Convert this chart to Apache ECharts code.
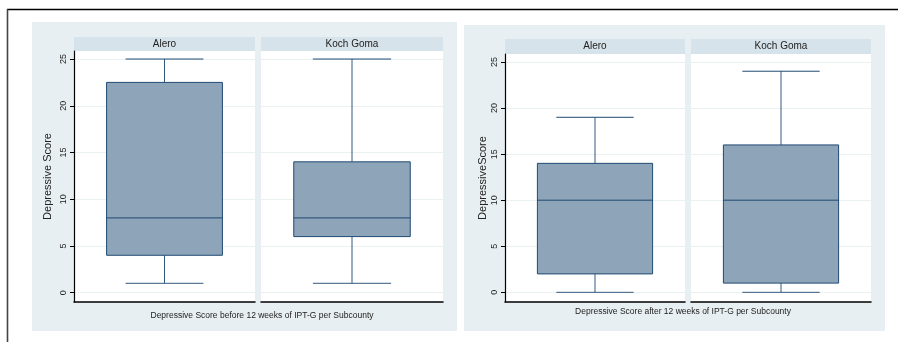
<!DOCTYPE html>
<html>
<head>
<meta charset="utf-8">
<script src="https://cdn.jsdelivr.net/npm/echarts@6/dist/echarts.min.js"></script>
<style>html,body{margin:0;padding:0;background:#fff;}#c{width:898px;height:342px;}</style>
</head>
<body>
<div id="c"></div>
<script>
// ---- data ----
const subcounties = ['Alero', 'Koch Goma'];
// [min, Q1, median, Q3, max]
const beforeAlero = [1, 4, 8, 22.5, 25];
const beforeKochGoma = [1, 6, 8, 14, 25];
const afterAlero = [0, 2, 10, 14, 19];
const afterKochGoma = [0, 1, 10, 16, 24];
const yTicks = [0, 5, 10, 15, 20, 25];
const yTitleBefore = 'Depressive Score';
const yTitleAfter = 'DepressiveScore';
const xTitleBefore = 'Depressive Score before 12 weeks of IPT-G per Subcounty';
const xTitleAfter = 'Depressive Score after 12 weeks of IPT-G per Subcounty';

// ---- styling ----
const FONT = 'Liberation Sans, Arial, sans-serif';
const PANEL_BG = '#e8eff2';
const STRIP_BG = '#d7e3ea';
const BOX_FILL = '#8ea4b9';
const BOX_LINE = '#1f4a73';
const WHISK = '#34597f';
const GRIDC = '#e9f1f3';

const grids = [
  {left: 74, top: 51, width: 181, height: 251, min: -1.0, max: 25.86},
  {left: 261, top: 51, width: 182, height: 251, min: -1.0, max: 25.86},
  {left: 505, top: 54, width: 180, height: 248, min: -1.05, max: 25.87},
  {left: 691, top: 54, width: 180, height: 248, min: -1.05, max: 25.87}
];
const panelData = [beforeAlero, beforeKochGoma, afterAlero, afterKochGoma];
const panelCat = [subcounties[0], subcounties[1], subcounties[0], subcounties[1]];

function renderBox(params, api) {
  const x = api.coord([api.value(0), 0])[0];
  const band = api.size([1, 0])[0];
  const bw = band * 0.64;
  const cw = band * 0.43;
  const yMin = api.coord([api.value(0), api.value(1)])[1];
  const yQ1 = api.coord([api.value(0), api.value(2)])[1];
  const yMed = api.coord([api.value(0), api.value(3)])[1];
  const yQ3 = api.coord([api.value(0), api.value(4)])[1];
  const yMax = api.coord([api.value(0), api.value(5)])[1];
  const ls = {stroke: WHISK, lineWidth: 1};
  return {
    type: 'group',
    children: [
      {type: 'line', shape: {x1: x, y1: yMax, x2: x, y2: yQ3}, style: ls},
      {type: 'line', shape: {x1: x, y1: yQ1, x2: x, y2: yMin}, style: ls},
      {type: 'line', shape: {x1: x - cw / 2, y1: yMax, x2: x + cw / 2, y2: yMax}, style: {stroke: BOX_LINE, lineWidth: 1}},
      {type: 'line', shape: {x1: x - cw / 2, y1: yMin, x2: x + cw / 2, y2: yMin}, style: ls},
      {type: 'rect', shape: {x: x - bw / 2, y: yQ3, width: bw, height: yQ1 - yQ3}, style: {fill: BOX_FILL, stroke: BOX_LINE, lineWidth: 1}},
      {type: 'line', shape: {x1: x - bw / 2, y1: yMed, x2: x + bw / 2, y2: yMed}, style: {stroke: BOX_LINE, lineWidth: 1}}
    ]
  };
}

const option = {
  animation: false,
  backgroundColor: '#fff',
  textStyle: {fontFamily: FONT},
  grid: grids.map(g => ({left: g.left, top: g.top, width: g.width, height: g.height,
    show: true, backgroundColor: '#fff', borderWidth: 0, containLabel: false})),
  xAxis: grids.map((g, i) => ({
    type: 'category', gridIndex: i, data: [panelCat[i]],
    axisLine: {show: true, onZero: false, lineStyle: {color: '#000', width: 1.5}},
    axisTick: {show: false}, axisLabel: {show: false}, splitLine: {show: false}
  })),
  yAxis: grids.map((g, i) => {
    const first = (i === 0 || i === 2);
    return {
      type: 'value', gridIndex: i, min: g.min, max: g.max,
      name: first ? (i === 0 ? yTitleBefore : yTitleAfter) : '',
      nameLocation: 'middle', nameGap: i === 0 ? 21 : 17,
      nameTextStyle: {fontFamily: FONT, fontSize: 11, color: '#222'},
      axisLine: {show: first, lineStyle: {color: '#000', width: 1.2}},
      axisTick: {show: first, customValues: yTicks, length: 4, lineStyle: {color: '#000'}},
      axisLabel: {show: first, customValues: yTicks, rotate: 90, margin: 6, fontSize: 9, color: '#222', fontFamily: FONT},
      splitLine: {show: true, lineStyle: {color: GRIDC, width: 1}}
    };
  }),
  series: grids.map((g, i) => ({
    type: 'custom', xAxisIndex: i, yAxisIndex: i,
    renderItem: renderBox,
    encode: {x: 0, y: [1, 2, 3, 4, 5]},
    data: [[0].concat(panelData[i])]
  })),
  graphic: [
    // outer frame lines
    {type: 'line', z: -5, shape: {x1: 7, y1: 9.5, x2: 898, y2: 9.5}, style: {stroke: '#000', lineWidth: 1.3}},
    {type: 'line', z: -5, shape: {x1: 7.5, y1: 9, x2: 7.5, y2: 342}, style: {stroke: '#444', lineWidth: 1.6}},
    // panel backgrounds
    {type: 'rect', z: -10, shape: {x: 32, y: 22, width: 425, height: 309}, style: {fill: PANEL_BG}},
    {type: 'rect', z: -10, shape: {x: 464, y: 25, width: 421, height: 306}, style: {fill: PANEL_BG}},
    // strips
    {type: 'rect', shape: {x: 74, y: 37, width: 181, height: 14}, style: {fill: STRIP_BG}},
    {type: 'rect', shape: {x: 261, y: 37, width: 182, height: 14}, style: {fill: STRIP_BG}},
    {type: 'rect', shape: {x: 505, y: 39, width: 180, height: 15}, style: {fill: STRIP_BG}},
    {type: 'rect', shape: {x: 691, y: 39, width: 180, height: 15}, style: {fill: STRIP_BG}},
    {type: 'text', style: {text: subcounties[0], x: 164.5, y: 44, align: 'center', verticalAlign: 'middle', font: '10px ' + FONT, fill: '#222'}},
    {type: 'text', style: {text: subcounties[1], x: 352, y: 44, align: 'center', verticalAlign: 'middle', font: '10px ' + FONT, fill: '#222'}},
    {type: 'text', style: {text: subcounties[0], x: 595, y: 46.5, align: 'center', verticalAlign: 'middle', font: '10px ' + FONT, fill: '#222'}},
    {type: 'text', style: {text: subcounties[1], x: 781, y: 46.5, align: 'center', verticalAlign: 'middle', font: '10px ' + FONT, fill: '#222'}},
    // x titles
    {type: 'text', style: {text: xTitleBefore, x: 262, y: 316, align: 'center', verticalAlign: 'middle', font: '8.5px ' + FONT, fill: '#222'}},
    {type: 'text', style: {text: xTitleAfter, x: 683, y: 312, align: 'center', verticalAlign: 'middle', font: '8.5px ' + FONT, fill: '#222'}}
  ]
};
const chart = echarts.init(document.getElementById('c'), null, {renderer: 'canvas'});
chart.setOption(option);
</script>
</body>
</html>
